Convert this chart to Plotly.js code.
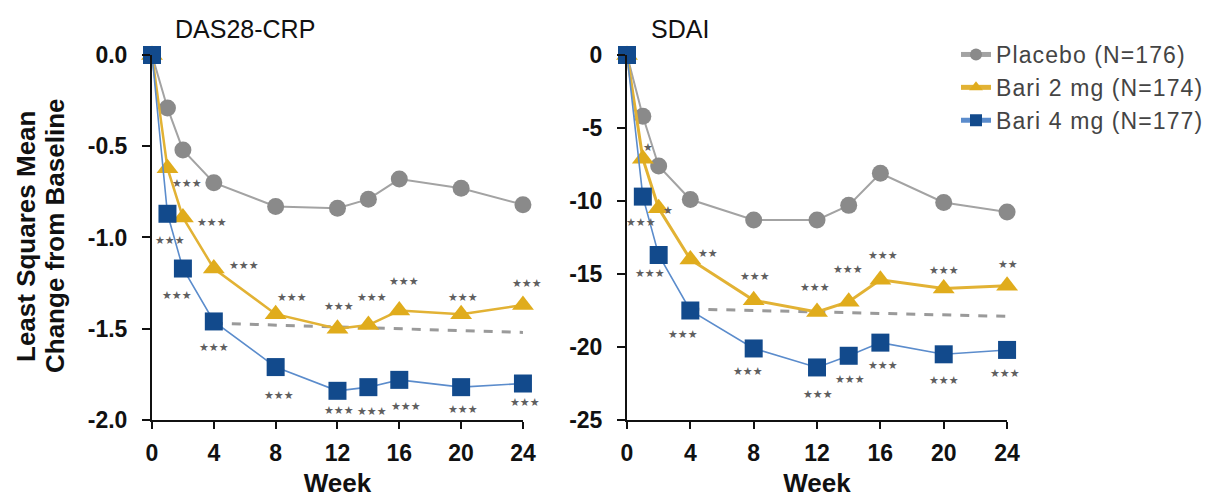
<!DOCTYPE html>
<html><head><meta charset="utf-8">
<script src="https://cdn.plot.ly/plotly-3.0.1.min.js"></script>
<style>html,body{margin:0;padding:0;background:#fff}#chart{width:1217px;height:498px}
.legendtext{letter-spacing:1.1px}</style>
</head><body><div id="chart"></div>
<script>
// ---- data ----
const weeks = [0, 1, 2, 4, 8, 12, 14, 16, 20, 24];
const xTicks = [0, 4, 8, 12, 16, 20, 24];
const das28Ticks = [0, -0.5, -1.0, -1.5, -2.0];
const das28TickText = ["0.0", "-0.5", "-1.0", "-1.5", "-2.0"];
const sdaiTicks = [0, -5, -10, -15, -20, -25];
const sdaiTickText = ["0", "-5", "-10", "-15", "-20", "-25"];
const seriesNames = ["Placebo (N=176)", "Bari 2 mg (N=174)", "Bari 4 mg (N=177)"];

const das28Placebo = [0, -0.29, -0.52, -0.70, -0.83, -0.84, -0.79, -0.68, -0.73, -0.82];
const das28Bari2   = [0, -0.62, -0.89, -1.17, -1.42, -1.50, -1.48, -1.40, -1.42, -1.37];
const das28Bari4   = [0, -0.87, -1.17, -1.46, -1.71, -1.84, -1.82, -1.78, -1.82, -1.80];
const das28RefWeeks = [4, 24];
const das28RefVals  = [-1.47, -1.52];

const sdaiPlacebo = [0, -4.2, -7.6, -9.9, -11.3, -11.3, -10.3, -8.1, -10.1, -10.75];
const sdaiBari2   = [0, -7.1, -10.5, -14.0, -16.8, -17.6, -16.9, -15.4, -16.0, -15.8];
const sdaiBari4   = [0, -9.7, -13.7, -17.5, -20.1, -21.4, -20.6, -19.7, -20.5, -20.2];
const sdaiRefWeeks = [4, 24];
const sdaiRefVals  = [-17.4, -17.9];

// significance labels (index aligned with weeks; "" = none)
const das28Bari2Sig = ["", "★★★", "★★★", "★★★", "★★★", "★★★", "★★★", "★★★", "★★★", "★★★"];
const das28Bari4Sig = ["", "★★★", "★★★", "★★★", "★★★", "★★★", "★★★", "★★★", "★★★", "★★★"];
const sdaiBari2Sig  = ["", "★", "★", "★★", "★★★", "★★★", "★★★", "★★★", "★★★", "★★"];
const sdaiBari4Sig  = ["", "★★★", "★★★", "★★★", "★★★", "★★★", "★★★", "★★★", "★★★", "★★★"];

// ---- label placement (pixel offsets, style only) ----
const das28Bari2Off = [[0,0],[20,-15],[29,-5],[30,3],[16,17],[2,22],[4,28],[5,29],[2,17],[4,22]];
const das28Bari4Off = [[0,0],[3,-27],[-6,-27],[0,-26],[3,-28],[2,-20],[4,-24],[7,-27],[2,-22],[2,-19]];
const sdaiBari2Off  = [[0,0],[5,11],[9,-2],[18,6],[1,24],[-2,24],[-1,32],[3,24],[0,18],[1,21]];
const sdaiBari4Off  = [[0,0],[-2,-26],[-9,-18],[-7,-24],[-6,-23],[1,-27],[1,-24],[3,-23],[0,-26],[-2,-24]];

const cPlacebo = {marker: "#8a8a8a", line: "#a3a3a3"};
const cBari2 = {marker: "#e0ac1c", line: "#e2b234"};
const cBari4 = {marker: "#124a8c", line: "#5b8ccc"};

const FONT = "Liberation Sans, Arial, sans-serif";

function mk(x, y, name, col, sym, size, lw, xa, ya, show) {
  return {x: x, y: y, name: name, mode: "lines+markers", type: "scatter",
    xaxis: xa, yaxis: ya, showlegend: show, legendgroup: name, cliponaxis: false,
    line: {color: col.line, width: lw},
    marker: {color: col.marker, symbol: sym, size: size, line: {width: 0}}};
}
function ref(x, y, xa, ya) {
  return {x: x, y: y, mode: "lines", type: "scatter", xaxis: xa, yaxis: ya, showlegend: false,
    hoverinfo: "skip", line: {color: "#9a9a9a", width: 3, dash: "dash"}};
}

const traces = [
  ref(das28RefWeeks, das28RefVals, "x", "y"),
  ref(sdaiRefWeeks, sdaiRefVals, "x2", "y2"),
  mk(weeks, das28Placebo, seriesNames[0], cPlacebo, "circle", 17, 2, "x", "y", true),
  mk(weeks, das28Bari2, seriesNames[1], cBari2, "triangle-up", 19, 2.5, "x", "y", true),
  mk(weeks, das28Bari4, seriesNames[2], cBari4, "square", 18, 1.6, "x", "y", true),
  mk(weeks, sdaiPlacebo, seriesNames[0], cPlacebo, "circle", 17, 2, "x2", "y2", false),
  mk(weeks, sdaiBari2, seriesNames[1], cBari2, "triangle-up", 19, 3, "x2", "y2", false),
  mk(weeks, sdaiBari4, seriesNames[2], cBari4, "square", 18, 1.6, "x2", "y2", false)
];

const annotations = [];
function sig(vals, labels, offs, xr, yr) {
  for (let i = 0; i < weeks.length; i++) {
    if (!labels[i]) continue;
    annotations.push({x: weeks[i], y: vals[i], xref: xr, yref: yr, text: labels[i], showarrow: false,
      xshift: offs[i][0], yshift: offs[i][1],
      font: {family: "DejaVu Sans, sans-serif", size: 11, color: "#5f5f5f"}});
  }
}
sig(das28Bari2, das28Bari2Sig, das28Bari2Off, "x", "y");
sig(das28Bari4, das28Bari4Sig, das28Bari4Off, "x", "y");
sig(sdaiBari2, sdaiBari2Sig, sdaiBari2Off, "x2", "y2");
sig(sdaiBari4, sdaiBari4Sig, sdaiBari4Off, "x2", "y2");

// panel titles
annotations.push({text: "DAS28-CRP", xref: "paper", yref: "paper", x: 245 / 1217, y: 1 - 29 / 498,
  xanchor: "center", yanchor: "middle", showarrow: false, font: {family: FONT, size: 25, color: "#111"}});
annotations.push({text: "SDAI", xref: "paper", yref: "paper", x: 680 / 1217, y: 1 - 29 / 498,
  xanchor: "center", yanchor: "middle", showarrow: false, font: {family: FONT, size: 25, color: "#111"}});
// y-axis title (two lines)
const yTitleFont = {family: FONT, size: 26, color: "#111", weight: "bold"};
annotations.push({text: "Least Squares Mean", xref: "paper", yref: "paper", x: 26 / 1217, y: 1 - 237 / 498,
  xanchor: "center", yanchor: "middle", textangle: -90, showarrow: false, font: yTitleFont});
annotations.push({text: "Change from Baseline", xref: "paper", yref: "paper", x: 55 / 1217, y: 1 - 236 / 498,
  xanchor: "center", yanchor: "middle", textangle: -90, showarrow: false, font: yTitleFont});

const tickFont = {family: FONT, size: 23, color: "#111", weight: "bold"};
const titleFont = {family: FONT, size: 26, color: "#111", weight: "bold"};

function xax(domain, anchor) {
  return {domain: domain, anchor: anchor, range: [0, 24], tickvals: xTicks, ticks: "outside", ticklen: 7,
    tickwidth: 2, tickcolor: "#111", showline: true, linecolor: "#111", linewidth: 2, showgrid: false,
    zeroline: false, tickfont: tickFont, ticklabelstandoff: 4,
    title: {text: "Week", font: titleFont, standoff: 12}};
}
function yax(domain, anchor, range, tv, tt) {
  return {domain: domain, anchor: anchor, range: range, tickvals: tv, ticktext: tt,
    ticks: "outside", ticklen: 8, tickwidth: 2, tickcolor: "#111", showline: true, linecolor: "#111",
    linewidth: 2, showgrid: false, zeroline: false, tickfont: tickFont, ticklabelstandoff: 10};
}

const layout = {
  width: 1217, height: 498,
  margin: {l: 0, r: 0, t: 0, b: 0},
  paper_bgcolor: "#fff", plot_bgcolor: "#fff",
  xaxis: xax([0.1249, 0.4297], "y"),
  yaxis: yax([0.1566, 0.8896], "x", [-2.0, 0.0], das28Ticks, das28TickText),
  xaxis2: xax([0.5152, 0.8275], "y2"),
  yaxis2: yax([0.1566, 0.8896], "x2", [-25, 0], sdaiTicks, sdaiTickText),
  showlegend: true,
  legend: {x: 956 / 1217, y: 1 - 33 / 498, xanchor: "left", yanchor: "top", tracegroupgap: 0,
    itemsizing: "constant",
    font: {family: FONT, size: 23, color: "#444"}, bgcolor: "rgba(0,0,0,0)"},
  annotations: annotations
};

Plotly.newPlot("chart", traces, layout, {displayModeBar: false, staticPlot: true});
</script></body></html>
